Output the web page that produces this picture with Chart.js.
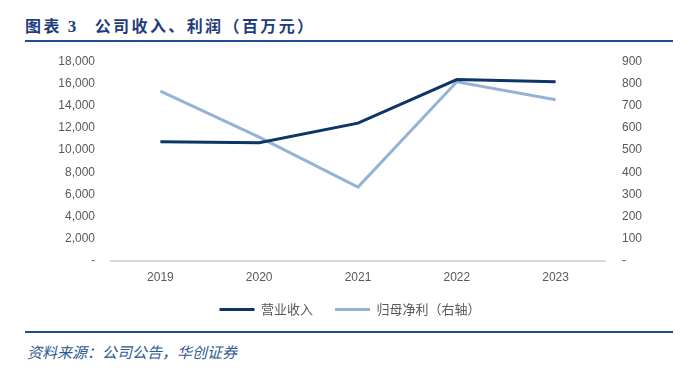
<!DOCTYPE html>
<html>
<head>
<meta charset="utf-8">
<script src="https://cdn.jsdelivr.net/npm/chart.js@4"></script>
<style>
  body { margin: 0; width: 700px; height: 373px; background: #fff; position: relative; overflow: hidden; }
  .titulo {
    position: absolute; left: 25px; top: 13px;
    font: bold 16px "Noto Sans CJK SC", sans-serif; color: #1f3d7a; letter-spacing: 2.4px;
  }
  .titulo .num { font-family: "Liberation Serif", serif; font-size: 17px; margin: 0 16px 0 6px; }
  .linea { position: absolute; left: 25px; width: 648px; background: #1f4e8c; }
  .fuente {
    position: absolute; left: 27px; top: 341px;
    font: italic 15px "Noto Sans CJK SC", sans-serif; color: #2e5a94;
  }
  #caja { position: absolute; left: 0; top: 37px; width: 700px; height: 293px; }
</style>
</head>
<body>
<div class="titulo">图表<span class="num">3</span>公司收入、利润（百万元）</div>
<div class="linea" style="top:40px;height:2px"></div>
<div id="caja"><canvas id="grafico"></canvas></div>
<div class="linea" style="top:331px;height:2px"></div>
<div class="fuente">资料来源：公司公告，华创证券</div>

<script>
const anios = ['2019', '2020', '2021', '2022', '2023'];
const ingresos = [10750, 10650, 12420, 16350, 16150];   // 营业收入, eje izquierdo
const beneficio = [765, 558, 333, 807, 726];             // 归母净利, eje derecho
const nombres = ['营业收入', '归母净利（右轴）'];
const colores = ['#0b3667', '#95b3d7'];

const fuenteNum = { family: '"Liberation Sans", "Noto Sans CJK SC", sans-serif', size: 12 };
const fmt = v => v === 0 ? '-' : v.toLocaleString('en-US');

new Chart(document.getElementById('grafico'), {
  type: 'line',
  data: {
    labels: anios,
    datasets: [
      { label: nombres[0], data: ingresos, yAxisID: 'y',
        borderColor: colores[0], backgroundColor: colores[0], borderWidth: 3, pointRadius: 0 },
      { label: nombres[1], data: beneficio, yAxisID: 'y1',
        borderColor: colores[1], backgroundColor: colores[1], borderWidth: 3, pointRadius: 0 }
    ]
  },
  options: {
    responsive: true,
    maintainAspectRatio: false,
    animation: false,
    layout: { padding: { top: 0, bottom: 4 } },
    plugins: {
      tooltip: { enabled: false },
      legend: {
        position: 'bottom',
        labels: {
          usePointStyle: true, pointStyle: 'line', pointStyleWidth: 35, padding: 22,
          color: '#595959',
          font: { family: '"Noto Sans CJK SC", sans-serif', size: 13 }
        }
      }
    },
    scales: {
      x: {
        offset: true,
        grid: { display: false, drawTicks: false, offset: true },
        border: { color: '#d9d9d9', width: 2 },
        ticks: { color: '#595959', font: fuenteNum, padding: 9 },
        afterFit: s => { s.height = 20; }
      },
      y: {
        position: 'left', min: 0, max: 18000,
        grid: { display: false, drawTicks: false },
        border: { display: false },
        ticks: { stepSize: 2000, color: '#595959', font: fuenteNum, padding: 16, callback: fmt },
        afterFit: s => { s.width = 111; }
      },
      y1: {
        position: 'right', min: 0, max: 900,
        grid: { display: false, drawTicks: false },
        border: { display: false },
        ticks: { stepSize: 100, color: '#595959', font: fuenteNum, padding: 17, callback: fmt },
        afterFit: s => { s.width = 95; }
      }
    }
  }
});
</script>
</body>
</html>
